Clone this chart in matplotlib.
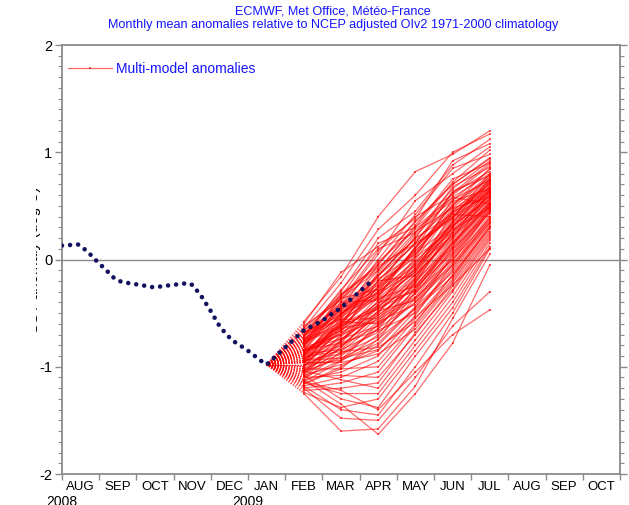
import matplotlib
matplotlib.use("Agg")
import matplotlib.pyplot as plt
from matplotlib.transforms import Bbox
import numpy as np

plt.rcParams['font.family'] = ['Liberation Sans', 'DejaVu Sans']

months = ["AUG", "SEP", "OCT", "NOV", "DEC", "JAN", "FEB", "MAR",
          "APR", "MAY", "JUN", "JUL", "AUG", "SEP", "OCT"]
years = ["2008", "2009"]
year_pos = [-0.5, 4.5]

# observed anomalies (time in months from Aug 2008)
obs_t = [-0.5, -0.07, 0.17, 0.39, 0.66, 0.92, 1.11, 1.65, 1.97, 2.40, 2.89,
         3.02, 3.26, 3.48, 3.75, 4.06, 4.46, 4.87, 5.0, 5.5, 6.0, 6.5, 6.7,
         7.0, 7.5, 7.86]
obs_val = [0.13, 0.14, 0.08, 0.0, -0.09, -0.18, -0.21, -0.24, -0.26, -0.24,
           -0.22, -0.24, -0.35, -0.47, -0.63, -0.75, -0.84, -0.95, -0.98,
           -0.82, -0.66, -0.57, -0.52, -0.45, -0.30, -0.19]

# forecast start (JAN) and member months FEB..JUL
fc_start_t = 5
fc_start_val = -0.98
fc_t = [6, 7, 8, 9, 10, 11]

members = [
    (-0.58, -0.16, 0.40, 0.82, 0.98, 1.20),
    (-0.64, -0.22, 0.28, 0.60, 1.00, 1.17),
    (-0.70, -0.30, 0.20, 0.45, 0.88, 1.12),
    (-0.60, -0.12, 0.12, 0.38, 0.92, 1.08),
    (-0.75, -0.40, 0.05, 0.55, 0.80, 1.05),
    (-0.82, -0.35, 0.15, 0.30, 0.72, 1.02),
    (-0.66, -0.45, 0.00, 0.42, 0.85, 0.98),
    (-0.90, -0.52, -0.05, 0.35, 0.70, 0.95),
    (-0.72, -0.28, 0.10, 0.25, 0.66, 0.92),
    (-0.78, -0.48, -0.10, 0.32, 0.75, 0.90),
    (-0.62, -0.38, 0.08, 0.40, 0.60, 0.88),
    (-0.95, -0.60, -0.15, 0.20, 0.68, 0.86),
    (-0.85, -0.42, -0.02, 0.28, 0.55, 0.84),
    (-0.68, -0.55, -0.20, 0.15, 0.62, 0.82),
    (-1.00, -0.65, -0.25, 0.22, 0.58, 0.80),
    (-0.80, -0.33, -0.08, 0.18, 0.50, 0.79),
    (-0.74, -0.50, -0.30, 0.10, 0.64, 0.78),
    (-0.88, -0.62, -0.12, 0.26, 0.48, 0.77),
    (-0.70, -0.44, -0.18, 0.05, 0.52, 0.76),
    (-1.05, -0.70, -0.35, 0.12, 0.45, 0.75),
    (-0.92, -0.58, -0.22, 0.02, 0.56, 0.74),
    (-0.66, -0.36, -0.28, 0.08, 0.42, 0.73),
    (-0.84, -0.66, -0.40, -0.05, 0.40, 0.72),
    (-0.98, -0.54, -0.15, 0.14, 0.38, 0.71),
    (-0.76, -0.46, -0.32, 0.00, 0.46, 0.70),
    (-1.08, -0.75, -0.45, -0.08, 0.35, 0.69),
    (-0.86, -0.60, -0.26, 0.06, 0.32, 0.68),
    (-0.72, -0.40, -0.38, -0.12, 0.44, 0.67),
    (-0.94, -0.68, -0.50, -0.02, 0.30, 0.66),
    (-0.80, -0.52, -0.20, -0.15, 0.36, 0.65),
    (-1.02, -0.78, -0.42, -0.10, 0.28, 0.64),
    (-0.88, -0.56, -0.55, -0.18, 0.34, 0.63),
    (-0.68, -0.48, -0.34, -0.04, 0.26, 0.62),
    (-1.10, -0.82, -0.48, -0.20, 0.25, 0.61),
    (-0.90, -0.64, -0.30, -0.06, 0.22, 0.60),
    (-0.78, -0.58, -0.60, -0.22, 0.31, 0.59),
    (-0.96, -0.72, -0.44, -0.14, 0.20, 0.58),
    (-0.84, -0.50, -0.36, -0.25, 0.18, 0.57),
    (-1.12, -0.86, -0.58, -0.16, 0.24, 0.56),
    (-0.74, -0.62, -0.46, -0.28, 0.15, 0.55),
    (-1.00, -0.80, -0.52, -0.24, 0.12, 0.54),
    (-0.86, -0.66, -0.40, -0.30, 0.16, 0.53),
    (-0.92, -0.74, -0.62, -0.32, 0.10, 0.52),
    (-1.06, -0.90, -0.65, -0.20, 0.14, 0.51),
    (-0.82, -0.70, -0.56, -0.35, 0.08, 0.50),
    (-1.14, -0.95, -0.70, -0.26, 0.06, 0.49),
    (-0.96, -0.76, -0.48, -0.38, 0.05, 0.48),
    (-0.88, -0.84, -0.68, -0.40, 0.02, 0.47),
    (-1.04, -0.92, -0.75, -0.30, 0.00, 0.46),
    (-0.76, -0.64, -0.58, -0.42, -0.02, 0.45),
    (-1.16, -1.00, -0.80, -0.45, 0.04, 0.44),
    (-0.94, -0.88, -0.72, -0.36, -0.05, 0.42),
    (-1.08, -0.98, -0.85, -0.48, -0.08, 0.40),
    (-0.84, -0.78, -0.66, -0.50, -0.10, 0.38),
    (-1.12, -1.05, -0.90, -0.52, -0.04, 0.36),
    (-0.98, -0.94, -0.78, -0.44, -0.12, 0.35),
    (-1.18, -1.10, -0.95, -0.55, -0.15, 0.33),
    (-0.90, -0.86, -0.82, -0.58, -0.18, 0.31),
    (-1.02, -1.02, -1.00, -0.60, -0.14, 0.30),
    (-1.20, -1.15, -1.05, -0.62, -0.20, 0.28),
    (-0.96, -0.96, -0.88, -0.65, -0.22, 0.26),
    (-1.10, -1.08, -1.10, -0.70, -0.25, 0.24),
    (-1.22, -1.20, -1.15, -0.68, -0.28, 0.22),
    (-1.04, -1.12, -1.20, -0.75, -0.30, 0.20),
    (-1.15, -1.25, -1.25, -0.80, -0.35, 0.18),
    (-1.24, -1.38, -1.30, -0.85, -0.40, 0.15),
    (-1.08, -1.30, -1.38, -0.90, -0.45, 0.12),
    (-1.18, -1.40, -1.45, -1.00, -0.50, 0.10),
    (-1.25, -1.60, -1.58, -1.18, -0.55, 0.05),
    (-1.12, -1.35, -1.63, -1.25, -0.78, -0.05),
    (-1.20, -1.48, -1.50, -1.10, -0.62, -0.30),
    (-1.14, -1.22, -1.40, -1.05, -0.70, -0.47),
    (-0.72, -0.32, -0.06, 0.15, 0.40, 0.62),
    (-0.80, -0.44, -0.24, 0.10, 0.50, 0.85),
    (-0.94, -0.58, -0.32, -0.10, 0.35, 0.75),
    (-0.86, -0.70, -0.42, 0.02, 0.28, 0.48),
    (-0.68, -0.52, -0.14, 0.20, 0.42, 0.40),
    (-1.00, -0.62, -0.46, -0.22, 0.20, 0.68),
    (-0.78, -0.36, -0.10, 0.30, 0.58, 0.52),
    (-0.92, -0.80, -0.62, -0.28, 0.12, 0.65),
    (-1.06, -0.76, -0.38, -0.12, 0.30, 0.72),
    (-0.82, -0.46, -0.28, 0.04, 0.48, 0.58),
    (-0.70, -0.56, -0.36, -0.08, 0.38, 0.80),
    (-0.98, -0.84, -0.54, -0.32, 0.10, 0.44),
    (-0.88, -0.68, -0.20, 0.16, 0.54, 0.66),
    (-1.10, -0.94, -0.60, -0.36, 0.00, 0.38),
    (-0.74, -0.42, -0.16, 0.24, 0.62, 0.90),
    (-0.96, -0.60, -0.44, -0.18, 0.26, 0.60),
    (-0.84, -0.74, -0.52, -0.26, 0.16, 0.50),
    (-1.02, -0.88, -0.64, -0.40, -0.06, 0.34),
    (-0.64, -0.34, -0.04, 0.36, 0.70, 0.94),
    (-0.90, -0.50, -0.26, 0.08, 0.44, 0.64),
    (-1.16, -1.02, -0.74, -0.46, -0.16, 0.30),
    (-0.76, -0.54, -0.30, -0.02, 0.32, 0.56),
    (-1.04, -0.82, -0.50, -0.14, 0.22, 0.52),
    (-0.86, -0.62, -0.34, 0.12, 0.40, 0.74),
    (-0.94, -0.92, -0.84, -0.54, -0.24, 0.10),
]

title_line1 = "ECMWF, Met Office, Météo-France"
title_line2 = "Monthly mean anomalies relative to NCEP adjusted OIv2 1971-2000 climatology"
legend_label = "Multi-model anomalies"
ylabel_text = "SST anomaly (deg C)"

W, H = 629, 505
fig = plt.figure(figsize=(W / 100, H / 100), dpi=100)
ax = fig.add_axes([62 / W, 1 - 474 / H, 558 / W, 429 / H])

red = "#ff0000"
blue = "#1515ff"
grey = "#8a8a8a"

# ensemble members
for m in members:
    ax.plot([fc_start_t, fc_t[0]], [fc_start_val, m[0]], color=red,
            lw=0.9, alpha=0.6, ls=(0, (1, 1.2)), zorder=2)
    ax.plot(fc_t, m, color=red, lw=0.9, alpha=0.58, zorder=2,
            marker="s", ms=2.0, mec=red, mfc=red, mew=0)

# observations
ax.plot(obs_t, obs_val, color="#12125e", lw=3.3, ls=(0, (0.01, 1.75)),
        dash_capstyle="round", zorder=4)

ax.axhline(0, color=grey, lw=1.0, zorder=1)

ax.set_xlim(-0.5, 14.5)
ax.set_ylim(-2, 2)

# x axis: ticks at month boundaries, labels at month centres
ax.set_xticks(np.arange(-0.5, 15, 1.0))
ax.set_xticklabels([])
ax.set_xticks(np.arange(15), minor=True)
ax.set_xticklabels(months, minor=True, fontsize=9.5)
ax.tick_params(axis="x", which="major", length=4, width=1, color=grey,
               direction="out", top=False)
ax.tick_params(axis="x", which="minor", length=0, pad=5, top=False)

ax.set_yticks([-2, -1, 0, 1, 2])
ax.set_yticklabels(["-2", "-1", "0", "1", "2"], fontsize=10.5)
ax.set_yticks(np.arange(-2, 2.01, 0.1), minor=True)
ax.tick_params(axis="y", which="major", length=5, width=1, color=grey,
               direction="out", left=True, right=True, labelleft=True,
               labelright=True, pad=2)
ax.tick_params(axis="y", which="minor", length=3, width=0.8, color=grey,
               direction="out", left=True, right=True)

for s in ax.spines.values():
    s.set_color(grey)
    s.set_linewidth(1.3)

for yr, p in zip(years, year_pos):
    ax.text(p, -0.049, yr, transform=ax.get_xaxis_transform(), ha="center",
            va="top", fontsize=10)

# legend
leg = ax.legend([plt.Line2D([0], [0], color=red, lw=0.9, alpha=0.6,
                            marker="s", ms=2, markevery=[1],
                            mew=0)],
                [legend_label], loc="upper left", frameon=False,
                fontsize=10, handlelength=3.15, handletextpad=0.3,
                bbox_to_anchor=(-0.0215, 1.002), borderaxespad=0.9)
for t in leg.get_texts():
    t.set_color(blue)

fig.text(333 / W, 1 - 11 / H, title_line1, ha="center", va="center",
         color=blue, fontsize=9.1)
fig.text(333 / W, 1 - 25 / H, title_line2, ha="center", va="center",
         color=blue, fontsize=9.1)

# y label, only its trailing edge shows next to the tick labels
yl = fig.text(41 / W, 1 - 260 / H, ylabel_text, rotation=90, ha="right",
              va="center", fontsize=11)
yl.set_clip_box(Bbox([[35.5, 0], [41, H]]))
yl.set_clip_on(True)

fig.savefig("out.png", dpi=100)
